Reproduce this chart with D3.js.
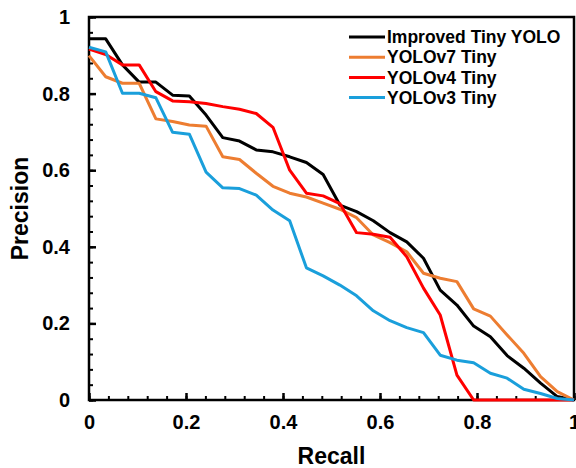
<!DOCTYPE html>
<html>
<head>
<meta charset="utf-8">
<script src="https://cdn.jsdelivr.net/npm/d3@7"></script>
<style>
  body { margin: 0; background: #fff; }
  svg text { font-family: Arial, "Liberation Sans", sans-serif; font-weight: bold; fill: #000; }
</style>
</head>
<body>
<svg id="chart" width="576" height="468"></svg>
<script>
// recall grid shared by every curve (30 points)
const recall = d3.range(30).map(i => i / 29);

const improvedTiny = [0.943, 0.943, 0.875, 0.830, 0.830, 0.796, 0.794, 0.744, 0.685, 0.676,
  0.653, 0.648, 0.635, 0.620, 0.589, 0.509, 0.492, 0.468, 0.437, 0.413,
  0.370, 0.287, 0.248, 0.193, 0.165, 0.116, 0.083, 0.044, 0.009, 0.000];
const yolov7Tiny = [0.899, 0.844, 0.827, 0.827, 0.734, 0.727, 0.718, 0.715, 0.635, 0.628,
  0.592, 0.558, 0.540, 0.530, 0.514, 0.498, 0.476, 0.431, 0.411, 0.387,
  0.331, 0.318, 0.309, 0.238, 0.219, 0.170, 0.122, 0.061, 0.022, 0.000];
const yolov4Tiny = [0.916, 0.902, 0.875, 0.875, 0.805, 0.781, 0.779, 0.774, 0.766, 0.759,
  0.748, 0.712, 0.600, 0.540, 0.533, 0.513, 0.437, 0.433, 0.425, 0.374,
  0.292, 0.222, 0.065, 0.000, 0.000, 0.000, 0.000, 0.000, 0.000, 0.000];
const yolov3Tiny = [0.921, 0.909, 0.801, 0.801, 0.789, 0.699, 0.694, 0.595, 0.554, 0.552,
  0.535, 0.496, 0.468, 0.345, 0.324, 0.300, 0.272, 0.233, 0.207, 0.189,
  0.176, 0.117, 0.104, 0.097, 0.070, 0.057, 0.028, 0.017, 0.004, 0.000];

const seriesNames = ["Improved Tiny YOLO", "YOLOv7 Tiny", "YOLOv4 Tiny", "YOLOv3 Tiny"];
const seriesColors = ["#000000", "#ED7D31", "#FF0000", "#1A9FDB"];
const majorTicks = [0, 0.2, 0.4, 0.6, 0.8, 1];

const margin = {top: 17, right: 2, bottom: 68, left: 89};
const width = 576 - margin.left - margin.right;
const height = 468 - margin.top - margin.bottom;

const svg = d3.select("#chart");
const g = svg.append("g").attr("transform", `translate(${margin.left},${margin.top})`);

const x = d3.scaleLinear().domain([0, 1]).range([0, width]);
const y = d3.scaleLinear().domain([0, 1]).range([height, 0]);

const minorTicks = d3.range(0, 51).map(i => i * 0.04).filter(v => v <= 1.0001);

// minor ticks (inside)
g.append("g").attr("transform", `translate(0,${height})`)
  .call(d3.axisBottom(x).tickValues(minorTicks).tickSize(-4).tickFormat(""))
  .call(a => a.select(".domain").remove())
  .selectAll("line").attr("stroke-width", 2);
g.append("g")
  .call(d3.axisLeft(y).tickValues(minorTicks).tickSize(-4).tickFormat(""))
  .call(a => a.select(".domain").remove())
  .selectAll("line").attr("stroke-width", 2);

// major ticks + labels
const xAxis = g.append("g").attr("transform", `translate(0,${height})`)
  .call(d3.axisBottom(x).tickValues(majorTicks).tickSize(-7).tickPadding(15).tickFormat(d3.format("")))
  .call(a => a.select(".domain").remove());
xAxis.selectAll("line").attr("stroke-width", 2.5);
xAxis.selectAll("text").style("font-size", "20px");

const yAxis = g.append("g")
  .call(d3.axisLeft(y).tickValues(majorTicks).tickSize(-7).tickPadding(19).tickFormat(d3.format("")))
  .call(a => a.select(".domain").remove());
yAxis.selectAll("line").attr("stroke-width", 2.5);
yAxis.selectAll("text").style("font-size", "20px");

// plot frame
g.append("rect")
  .attr("width", width).attr("height", height)
  .attr("fill", "none").attr("stroke", "#000").attr("stroke-width", 2.5);

// curves
const allSeries = [improvedTiny, yolov7Tiny, yolov4Tiny, yolov3Tiny];
const line = d3.line().x((d, i) => x(recall[i])).y(d => y(d));
allSeries.forEach(function(vals, k) {
  g.append("path")
    .datum(vals)
    .attr("fill", "none")
    .attr("stroke", seriesColors[k])
    .attr("stroke-width", 3)
    .attr("stroke-linejoin", "round")
    .attr("d", line);
});

// legend
const legend = svg.append("g").attr("transform", "translate(349,37)");
seriesNames.forEach(function(name, k) {
  const row = legend.append("g").attr("transform", `translate(0,${k * 20.2})`);
  row.append("line").attr("x1", 0).attr("x2", 36).attr("y1", 0).attr("y2", 0)
    .attr("stroke", seriesColors[k]).attr("stroke-width", 3);
  row.append("text").attr("x", 38).attr("y", 0).attr("dy", "0.35em")
    .style("font-size", "17.5px").text(name);
});

// axis titles
svg.append("text")
  .attr("x", margin.left + width / 2).attr("y", 464)
  .attr("text-anchor", "middle").style("font-size", "23px").text("Recall");
svg.append("text")
  .attr("transform", `translate(20,${margin.top + height / 2}) rotate(-90)`)
  .attr("text-anchor", "middle").attr("dy", "0.35em")
  .style("font-size", "23px").text("Precision");
</script>
</body>
</html>
